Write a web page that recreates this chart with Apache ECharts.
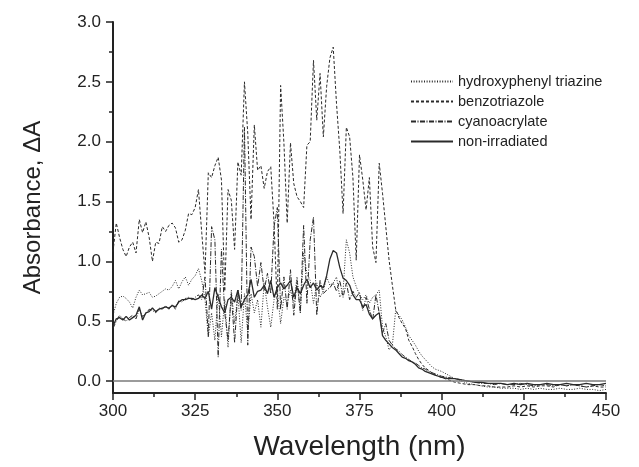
<!DOCTYPE html>
<html><head><meta charset="utf-8">
<script src="https://cdn.jsdelivr.net/npm/echarts@6/dist/echarts.min.js"></script>
<style>html,body{margin:0;padding:0;background:#fff}#c{width:639px;height:467px}</style>
</head><body><div id="c"></div>
<script>
const wavelengths = [300,301,302,303,304,305,306,307,308,309,310,311,312,313,314,315,316,317,318,319,320,321,322,323,324,325,326,327,328,329,330,331,332,333,334,335,336,337,338,339,340,341,342,343,344,345,346,347,348,349,350,351,352,353,354,355,356,357,358,359,360,361,362,363,364,365,366,367,368,369,370,371,372,373,374,375,376,377,378,379,380,381,382,383,384,385,386,387,388,389,390,391,392,393,394,395,396,397,398,399,400,402,404,406,408,410,412,414,416,418,420,422,424,426,428,430,432,434,436,438,440,442,444,446,448,450];

const hydroxyphenylTriazine = [0.55,0.65,0.70,0.71,0.69,0.66,0.61,0.70,0.76,0.72,0.73,0.74,0.70,0.71,0.73,0.75,0.77,0.76,0.79,0.84,0.77,0.83,0.87,0.80,0.85,0.88,0.94,0.84,0.68,0.37,0.57,0.34,0.73,0.37,0.68,0.28,0.76,0.48,0.73,0.32,0.73,0.40,0.73,0.57,0.68,0.45,0.82,0.62,0.45,0.68,0.76,0.48,0.70,0.65,0.76,0.65,0.87,0.57,1.07,0.90,0.84,0.65,0.82,0.70,0.75,0.87,0.80,0.82,0.87,0.70,0.75,1.18,1.07,0.87,0.79,0.72,0.68,0.72,0.65,0.70,0.72,0.76,0.45,0.37,0.26,0.30,0.59,0.55,0.51,0.45,0.38,0.34,0.30,0.25,0.21,0.18,0.15,0.12,0.10,0.09,0.08,0.05,0.02,0.00,-0.02,-0.03,-0.04,-0.05,-0.05,-0.06,-0.06,-0.06,-0.07,-0.06,-0.07,-0.06,-0.07,-0.07,-0.06,-0.07,-0.07,-0.06,-0.07,-0.07,-0.08,-0.07];

const benzotriazole = [1.08,1.32,1.20,1.10,1.04,1.12,1.16,1.07,1.35,1.24,1.33,1.20,1.00,1.16,1.15,1.29,1.25,1.30,1.32,1.28,1.16,1.18,1.26,1.40,1.39,1.45,1.60,1.24,0.90,1.74,1.70,1.80,1.87,1.68,0.75,1.60,1.51,1.10,1.83,1.72,2.50,2.07,1.35,2.14,1.76,1.80,1.61,1.75,1.79,1.32,0.60,2.47,1.99,1.32,1.99,1.65,1.54,1.50,1.45,1.97,2.00,2.68,2.18,2.57,2.04,2.46,2.70,2.79,2.32,1.93,1.40,2.12,2.04,1.70,1.01,1.89,1.68,1.43,1.70,1.12,0.99,1.82,1.57,1.29,1.01,0.80,0.60,0.53,0.48,0.44,0.34,0.29,0.23,0.18,0.14,0.11,0.09,0.07,0.05,0.04,0.03,0.01,-0.01,-0.02,-0.03,-0.03,-0.04,-0.04,-0.05,-0.05,-0.05,-0.04,-0.05,-0.04,-0.05,-0.04,-0.04,-0.05,-0.03,-0.04,-0.03,-0.04,-0.05,-0.04,-0.05,-0.05];

const cyanoacrylate = [0.44,0.50,0.55,0.52,0.50,0.53,0.55,0.52,0.60,0.54,0.56,0.60,0.59,0.57,0.61,0.60,0.63,0.60,0.64,0.60,0.67,0.66,0.69,0.70,0.68,0.70,0.72,0.68,0.87,0.37,1.29,1.18,0.20,1.10,0.57,0.34,0.73,0.32,0.76,0.59,2.12,0.30,1.12,1.04,0.79,0.99,0.76,0.90,0.73,1.29,1.45,0.60,0.87,0.60,0.93,0.55,0.84,0.57,1.30,0.65,1.18,1.37,0.55,0.84,0.73,0.76,0.78,0.82,0.75,0.84,0.70,0.82,0.68,0.75,0.70,0.74,0.59,0.70,0.60,0.51,0.72,0.57,0.40,0.48,0.34,0.30,0.27,0.25,0.22,0.20,0.18,0.16,0.15,0.13,0.11,0.10,0.08,0.07,0.06,0.05,0.04,0.03,0.02,0.01,0.00,-0.01,-0.02,-0.02,-0.03,-0.02,-0.03,-0.03,-0.02,-0.03,-0.04,-0.03,-0.03,-0.04,-0.03,-0.04,-0.03,-0.04,-0.05,-0.04,-0.03,-0.04];

const nonIrradiated = [0.46,0.52,0.53,0.51,0.54,0.51,0.53,0.55,0.62,0.51,0.57,0.58,0.61,0.58,0.60,0.61,0.62,0.61,0.63,0.62,0.66,0.68,0.68,0.69,0.69,0.68,0.69,0.72,0.69,0.75,0.60,0.78,0.70,0.62,0.57,0.68,0.70,0.66,0.76,0.62,0.68,0.72,0.85,0.70,0.75,0.76,0.80,0.73,0.84,0.70,0.78,0.82,0.77,0.80,0.84,0.70,0.78,0.73,0.80,0.85,0.78,0.82,0.76,0.80,0.78,0.88,1.02,1.09,1.07,0.95,0.86,0.84,0.80,0.72,0.68,0.68,0.62,0.64,0.56,0.52,0.55,0.57,0.38,0.34,0.31,0.28,0.26,0.23,0.20,0.19,0.17,0.16,0.14,0.11,0.10,0.08,0.07,0.06,0.05,0.04,0.03,0.02,0.02,0.01,0.00,-0.01,-0.01,-0.02,-0.02,-0.02,-0.03,-0.02,-0.03,-0.02,-0.03,-0.03,-0.02,-0.03,-0.03,-0.02,-0.03,-0.03,-0.02,-0.03,-0.03,-0.02];

const seriesNames = ['hydroxyphenyl triazine','benzotriazole','cyanoacrylate','non-irradiated'];
const yMajorTicks = [0,0.5,1.0,1.5,2.0,2.5,3.0];
const yMinorTicks = [0.25,0.75,1.25,1.75,2.25,2.75];

const seriesValues = [hydroxyphenylTriazine, benzotriazole, cyanoacrylate, nonIrradiated];
const dashTypes = [[1,1.6],[3,2],[5,1.5,1,1.5],'solid'];
const widths = [1,1,1,1.3];
const FONT = '"Liberation Sans", Arial, sans-serif';

const chart = echarts.init(document.getElementById('c'), null, {renderer:'canvas'});
const series = seriesNames.map((name,k)=>({
  name, type:'line', showSymbol:false, symbol:'none', animation:false,
  data: wavelengths.map((w,i)=>[w, seriesValues[k][i]]),
  lineStyle:{color:'#2a2a2a', width:widths[k], type:dashTypes[k]},
  itemStyle:{color:'#2a2a2a'},
  z: 3
}));
series[0].markLine = {
  silent:true, symbol:'none', animation:false,
  label:{show:false},
  lineStyle:{color:'#7a7a7a', type:'solid', width:1.5},
  data:[{yAxis:0}]
};

chart.setOption({
  backgroundColor:'#fff',
  animation:false,
  grid:{left:113, right:33, top:22, bottom:74, containLabel:false, outerBoundsMode:'none'},
  legend:{
    show:true,
    orient:'vertical', left:405, top:69, itemWidth:42, itemHeight:13, itemGap:5,
    itemStyle:{opacity:0},
    textStyle:{fontFamily:FONT, fontSize:14.5, color:'#222'},
    data: seriesNames
  },
  xAxis:{
    type:'value', min:300, max:450, interval:25,
    name:'Wavelength (nm)', nameLocation:'middle', nameGap:40,
    nameTextStyle:{fontFamily:FONT, fontSize:28, color:'#222'},
    axisLine:{show:true, onZero:false, lineStyle:{color:'#222', width:2}},
    axisTick:{show:true, length:7, lineStyle:{color:'#222', width:1.5}},
    minorTick:{show:true, splitNumber:2, length:4, lineStyle:{color:'#222', width:1.5}},
    axisLabel:{fontFamily:FONT, fontSize:17, color:'#222', margin:10},
    splitLine:{show:false}
  },
  yAxis:[{
    type:'value', min:-0.1, max:3.0,
    name:'Absorbance, \u0394A', nameLocation:'middle', nameGap:68, nameRotate:90,
    nameTextStyle:{fontFamily:FONT, fontSize:24, color:'#222'},
    axisLine:{show:true, onZero:false, lineStyle:{color:'#222', width:2}},
    axisTick:{show:true, length:7, customValues:yMajorTicks, lineStyle:{color:'#222', width:1.5}},
    axisLabel:{fontFamily:FONT, fontSize:17, color:'#222', margin:12, customValues:yMajorTicks, formatter:v=>v.toFixed(1)},
    splitLine:{show:false}
  },{
    type:'value', min:-0.1, max:3.0, position:'left',
    axisLine:{show:false},
    axisTick:{show:true, length:4, customValues:yMinorTicks, lineStyle:{color:'#222', width:1.5}},
    axisLabel:{show:false, customValues:yMinorTicks},
    splitLine:{show:false}
  }],
  series
});
</script></body></html>
